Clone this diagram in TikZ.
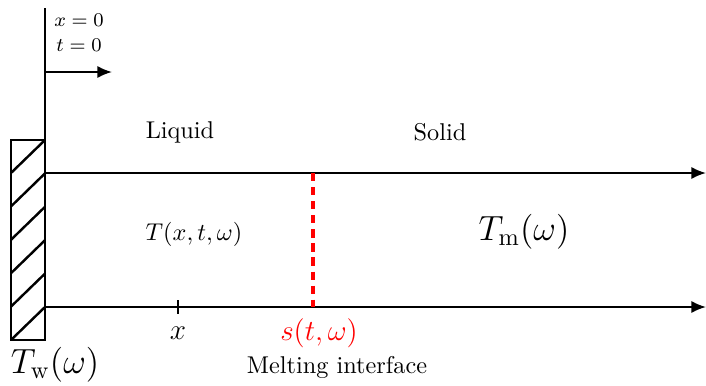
\documentclass[tikz,border=0pt]{standalone}
\usetikzlibrary{arrows.meta}
\begin{document}
\begin{tikzpicture}[x=0.412pt,y=-0.412pt,
  axis/.style={line width=0.8pt},
  arr/.style={line width=0.8pt,-{Latex[length=6pt,width=5pt]}},
  iface/.style={red,line width=1.6pt,dash pattern=on 3.4pt off 2.4pt},
  lbl/.style={inner sep=0pt,anchor=center}]
\useasboundingbox (0,0) rectangle (706,386);
% coordinates
\coordinate (top) at (45,8);
\coordinate (o) at (45,72);
\coordinate (oe) at (112,72);
\coordinate (wtr) at (45,140);
\coordinate (wbl) at (11,340);
\coordinate (l1s) at (45,173);
\coordinate (l1e) at (706,173);
\coordinate (l2s) at (45,307);
\coordinate (l2e) at (706,307);
\coordinate (st) at (313,173);
\coordinate (sb) at (313,307);
\coordinate (tk1) at (178,300);
\coordinate (tk2) at (178,314);
% wall
\draw[axis] (top) -- (wtr);
\draw[arr] (o) -- (oe);
\draw[line width=1pt] (wbl) rectangle (wtr);
\foreach \y in {140,173.4,206.8,240.2,273.6,307}
  \draw[line width=1pt] (45,\y) -- (11,\y+33);
% lines
\draw[arr] (l1s) -- (l1e);
\draw[arr] (l2s) -- (l2e);
\draw[iface] (st) -- (sb);
\draw[line width=0.8pt] (tk1) -- (tk2);
% labels
\node[lbl] (x0) at (79,20) {\footnotesize $x=0$};
\node[lbl] (t0) at (79,45) {\footnotesize $t=0$};
\node[lbl] (liq) at (180,132) {Liquid};
\node[lbl] (sol) at (440,132) {Solid};
\node[lbl] (T) at (194,234) {$T(x,t,\omega)$};
\node[lbl] (Tm) at (524,232) {\Large $T_{\mathrm{m}}(\omega)$};
\node[lbl] (xl) at (178,333) {\large $x$};
\node[lbl,red] (s) at (319,333) {\large $s(t,\omega)$};
\node[lbl] (mi) at (337,367) {Melting interface};
\node[lbl] (Tw) at (55,365) {\Large $T_{\mathrm{w}}(\omega)$};
\end{tikzpicture}
\end{document}
